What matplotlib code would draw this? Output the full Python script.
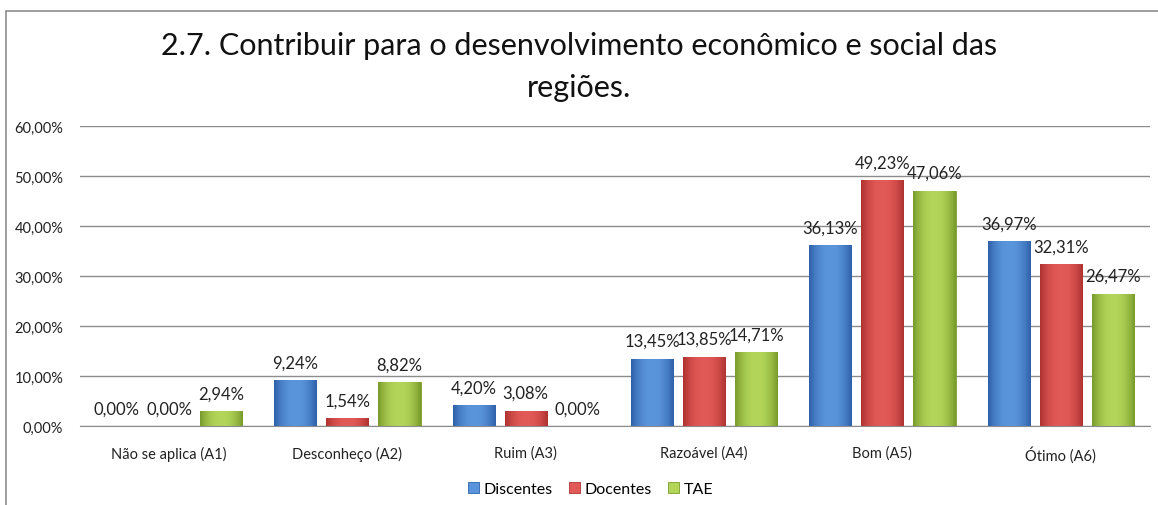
import numpy as np
import matplotlib
matplotlib.use("Agg")
from matplotlib import pyplot as plt
from matplotlib.colors import to_rgb
from matplotlib.patches import Rectangle

plt.rcParams['font.family'] = ['Lato', 'DejaVu Sans']

categories = ["Não se aplica (A1)", "Desconheço (A2)", "Ruim (A3)",
              "Razoável (A4)", "Bom (A5)", "Ótimo (A6)"]
series = ["Discentes", "Docentes", "TAE"]
discentes = [0.00, 9.24, 4.20, 13.45, 36.13, 36.97]
docentes = [0.00, 1.54, 3.08, 13.85, 49.23, 32.31]
tae = [2.94, 8.82, 0.00, 14.71, 47.06, 26.47]
values = [discentes, docentes, tae]
yticks = [0, 10, 20, 30, 40, 50, 60]

# (edge, centre) colours for the bevelled look
palette = [("#2f62ab", "#5a95dc"), ("#b03331", "#e25a57"), ("#7a9c2c", "#b3d65a")]


def shade(c_edge, c_mid, n=32):
    e = np.array(to_rgb(c_edge))
    m = np.array(to_rgb(c_mid))
    t = np.linspace(-1, 1, n)
    w = 1 - np.abs(t) ** 2.2
    return (e[None, :] * (1 - w[:, None]) + m[None, :] * w[:, None])[None, :, :]


def pct(v):
    return f"{v:.2f}%".replace(".", ",")


fig = plt.figure(figsize=(11.58, 5.06), dpi=100)
ax = fig.add_axes([0.069, 0.156, 0.924, 0.593])

x = np.arange(len(categories))
width = 0.236
pitch = 0.292
for i, (name, vals) in enumerate(zip(series, values)):
    pos = x + (i - 1) * pitch
    bars = ax.bar(pos, vals, width, color=palette[i][1], edgecolor=palette[i][0],
                  linewidth=0.6, label=name, zorder=2)
    img = shade(*palette[i])
    for b, v in zip(bars, vals):
        bx, bw, bh = b.get_x(), b.get_width(), b.get_height()
        if v > 0:
            im = ax.imshow(img, extent=[bx, bx + bw, 0, bh], aspect='auto', zorder=2.1,
                           interpolation='bicubic')
            im.set_clip_path(b)
        ax.annotate(pct(v), (bx + bw / 2, v),
                    xytext=(0, 7), textcoords='offset points', ha='center',
                    va='bottom', fontsize=12, color='#222222', zorder=3)

ax.set_xlim(-0.5, len(categories) - 0.5)
ax.set_ylim(0, 60)
ax.set_yticks(yticks)
ax.set_yticklabels([pct(t) for t in yticks])
ax.set_xticks(x)
ax.set_xticklabels(categories)
ax.tick_params(axis='both', length=0, labelsize=10.5, colors='#222222')
ax.tick_params(axis='x', pad=14)
ax.tick_params(axis='y', pad=12)
ax.grid(axis='y', color='#8c8c8c', linewidth=1.0, zorder=0)
for s in ['top', 'right', 'left']:
    ax.spines[s].set_visible(False)
ax.spines['bottom'].set_color('#8c8c8c')
ax.set_axisbelow(True)

fig.text(0.5, 0.91, "2.7. Contribuir para o desenvolvimento econômico e social das",
         ha='center', va='center', fontsize=22, color='#111111')
fig.text(0.5, 0.826, "regiões.", ha='center', va='center', fontsize=22, color='#111111')

leg = fig.legend(loc='center', bbox_to_anchor=(0.51, 0.032), ncol=3, frameon=False,
                 fontsize=11.5, handlelength=0.7, handleheight=0.7, handletextpad=0.3,
                 columnspacing=1.0)

frame = Rectangle((6 / 1158, -0.1), 1.2, 1 - 12 / 506 + 0.1, transform=fig.transFigure,
                  fill=False, edgecolor='#8c8c8c', linewidth=1.2)
fig.patches.append(frame)

fig.savefig("out.png", dpi=100)
plt.close(fig)
